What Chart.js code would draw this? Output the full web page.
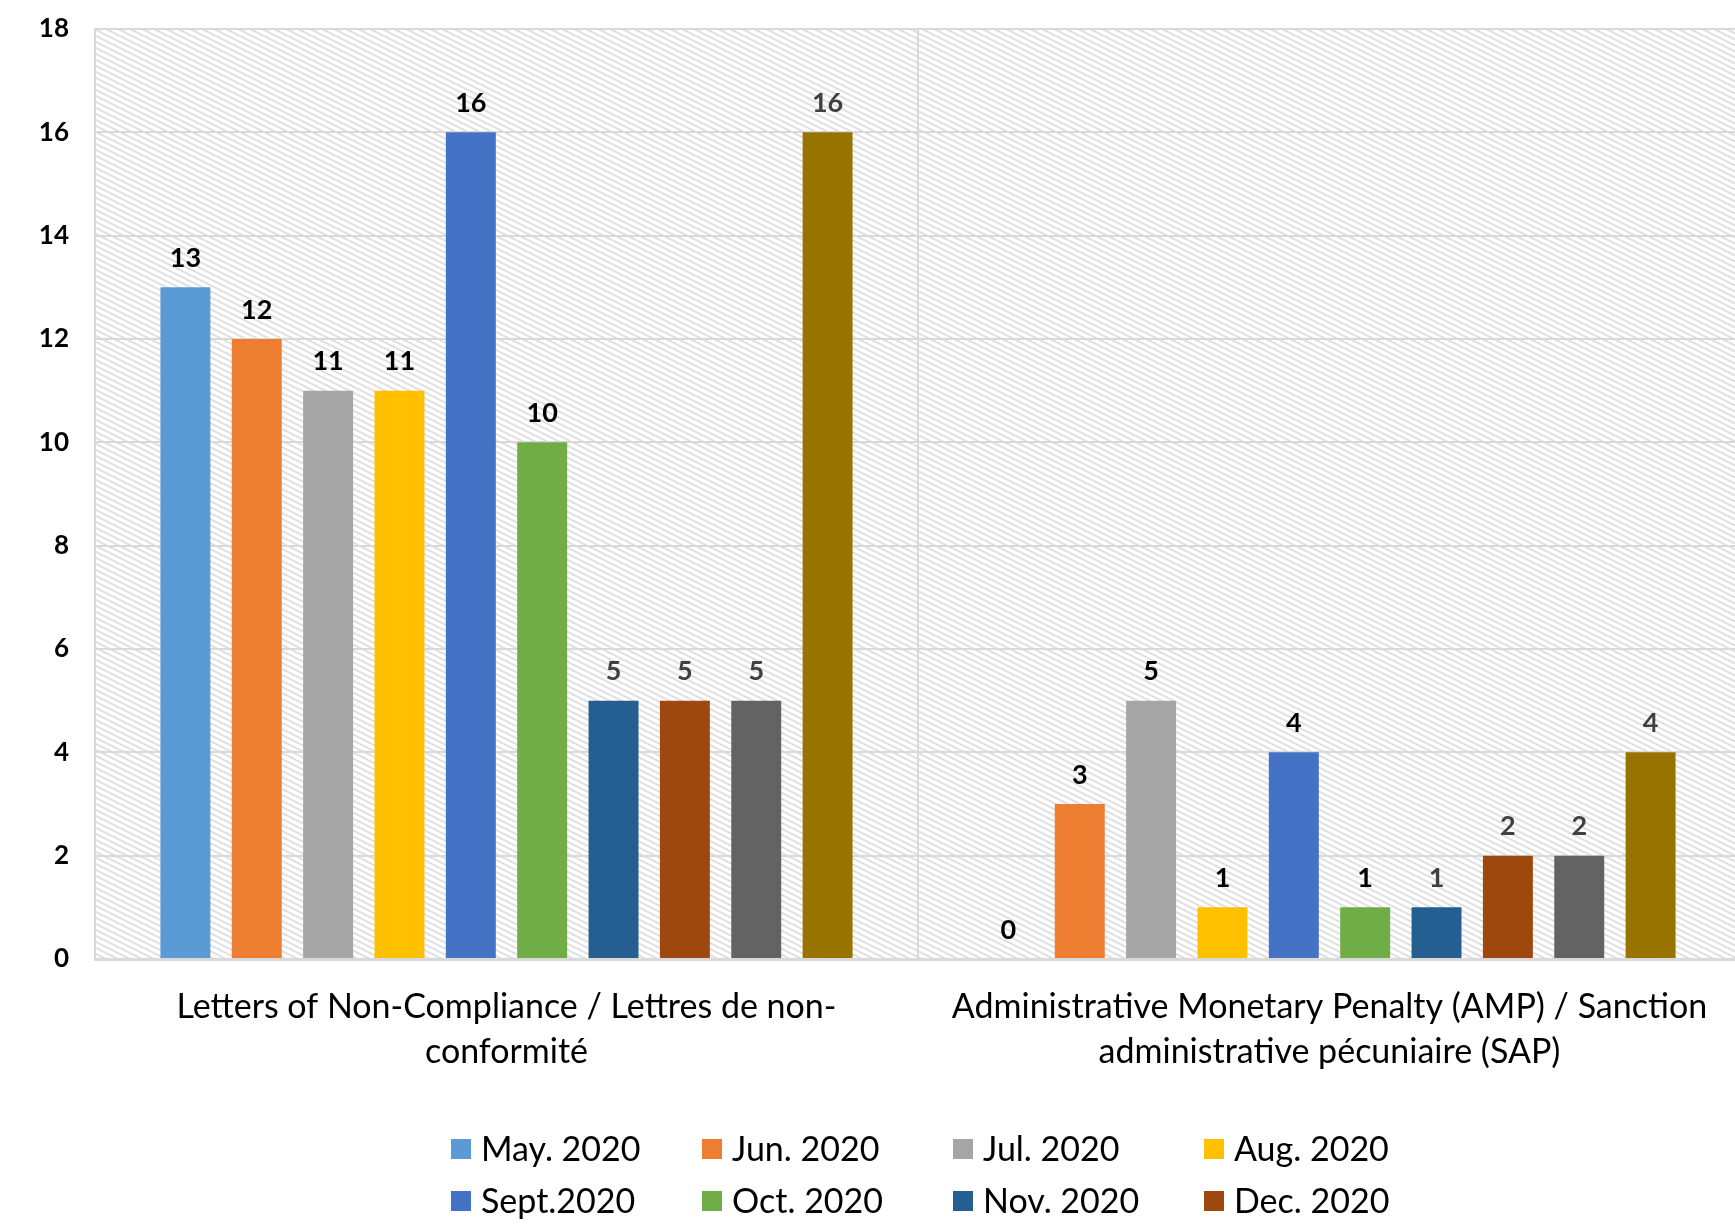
<!DOCTYPE html>
<html>
<head>
<meta charset="utf-8">
<script src="https://cdn.jsdelivr.net/npm/chart.js@4.4.1/dist/chart.umd.min.js"></script>
<style>
  html, body { margin: 0; padding: 0; background: #ffffff; overflow: hidden; }
  #wrap { position: relative; width: 1741px; height: 1226px; }
</style>
</head>
<body>
<div id="wrap"><canvas id="c"></canvas></div>
<script>
// ---- Data ----
const categories = [
  ["Letters of Non-Compliance / Lettres de non-", "conformité"],
  ["Administrative Monetary Penalty (AMP) / Sanction", "administrative pécuniaire (SAP)"]
];
const seriesLabels = ["May. 2020", "Jun. 2020", "Jul. 2020", "Aug. 2020", "Sept.2020",
                      "Oct. 2020", "Nov. 2020", "Dec. 2020", "Jan. 2021", "Feb. 2021"];
const may2020  = [13, 0];
const jun2020  = [12, 3];
const jul2020  = [11, 5];
const aug2020  = [11, 1];
const sept2020 = [16, 4];
const oct2020  = [10, 1];
const nov2020  = [5, 1];
const dec2020  = [5, 2];
const jan2021  = [5, 2];
const feb2021  = [16, 4];
const seriesValues = [may2020, jun2020, jul2020, aug2020, sept2020, oct2020, nov2020, dec2020, jan2021, feb2021];
const yTicks = [0, 2, 4, 6, 8, 10, 12, 14, 16, 18];

// ---- Styles ----
const seriesColors = ["#5B9BD5", "#ED7D31", "#A5A5A5", "#FFC000", "#4472C4",
                      "#70AD47", "#255E91", "#9E480E", "#636363", "#997300"];
const labelColors = ["#000000", "#000000", "#000000", "#000000", "#000000",
                     "#000000", "#404040", "#404040", "#404040", "#404040"];
const FONT = "Lato, 'Open Sans', sans-serif";

function makePattern(ctx) {
  const t = document.createElement('canvas');
  t.width = 12; t.height = 6;
  const g = t.getContext('2d');
  g.fillStyle = '#ffffff';
  g.fillRect(0, 0, 12, 6);
  g.strokeStyle = '#dedede';
  g.lineWidth = 2;
  for (const k of [-6, 0, 6]) {
    g.beginPath();
    g.moveTo(-4, -2 + k);
    g.lineTo(16, 8 + k);
    g.stroke();
  }
  return ctx.createPattern(t, 'repeat');
}

const hatchPlugin = {
  id: 'hatch',
  beforeDraw(chart) {
    const { ctx, chartArea: a } = chart;
    ctx.save();
    ctx.fillStyle = makePattern(ctx);
    ctx.fillRect(a.left, a.top, a.right - a.left, a.bottom - a.top);
    ctx.restore();
  }
};

const valueLabelPlugin = {
  id: 'valueLabels',
  afterDatasetsDraw(chart) {
    const { ctx } = chart;
    ctx.save();
    ctx.font = "bold 27px " + FONT;
    ctx.textAlign = 'center';
    ctx.textBaseline = 'middle';
    chart.data.datasets.forEach((ds, di) => {
      const meta = chart.getDatasetMeta(di);
      ctx.fillStyle = labelColors[di];
      meta.data.forEach((bar, i) => {
        ctx.fillText(String(ds.data[i]), bar.x, bar.y - 29);
      });
    });
    ctx.restore();
  }
};

const gridLegendPlugin = {
  id: 'gridLegend',
  afterDraw(chart) {
    const { ctx } = chart;
    const startX = 451, colW = 251, row0 = 1149, rowH = 52, box = 20;
    ctx.save();
    ctx.font = "34px " + FONT;
    ctx.textBaseline = 'middle';
    ctx.textAlign = 'left';
    chart.data.datasets.forEach((ds, i) => {
      const col = i % 4, row = Math.floor(i / 4);
      const x = startX + col * colW;
      const y = row0 + row * rowH;
      ctx.fillStyle = ds.backgroundColor;
      ctx.fillRect(x, y - box / 2, box, box);
      ctx.fillStyle = '#000000';
      ctx.fillText(ds.label, x + box + 10, y + 1);
    });
    ctx.restore();
  }
};

const datasets = seriesLabels.map((lab, i) => ({
  label: lab,
  data: seriesValues[i],
  backgroundColor: seriesColors[i],
  borderWidth: 0,
  barPercentage: 0.7,
  categoryPercentage: 0.867
}));

new Chart(document.getElementById('c'), {
  type: 'bar',
  data: { labels: categories, datasets },
  plugins: [hatchPlugin, valueLabelPlugin, gridLegendPlugin],
  options: {
    responsive: true,
    maintainAspectRatio: false,
    animation: false,
    layout: { padding: { top: 29, right: 0, bottom: 0, left: 30 } },
    plugins: {
      legend: { display: false },
      tooltip: { enabled: false }
    },
    scales: {
      x: {
        offset: true,
        grid: {
          offset: true,
          drawTicks: false,
          lineWidth: 2,
          color: (c) => (c.index === 2 ? 'rgba(0,0,0,0)' : '#d9d9d9')
        },
        border: { display: true, color: '#d9d9d9', width: 3 },
        ticks: {
          color: '#000000',
          font: { family: FONT, size: 34, lineHeight: 1.33 },
          padding: 25,
          maxRotation: 0,
          autoSkip: false
        },
        afterFit(scale) {
          scale.height = 1226 - 959;
          scale.paddingLeft = 0;
          scale.paddingRight = 0;
        }
      },
      y: {
        min: 0,
        max: 18,
        afterBuildTicks(scale) { scale.ticks = yTicks.map(v => ({ value: v })); },
        grid: { color: '#d9d9d9', lineWidth: 2, drawTicks: false },
        border: { display: true, color: '#d9d9d9', width: 2 },
        ticks: {
          color: '#000000',
          font: { family: FONT, size: 26, weight: 'bold' },
          padding: 26
        },
        afterFit(scale) {
          scale.width = 95 - 30;
          scale.paddingTop = 0;
          scale.paddingBottom = 0;
        }
      }
    }
  }
});
</script>
</body>
</html>
